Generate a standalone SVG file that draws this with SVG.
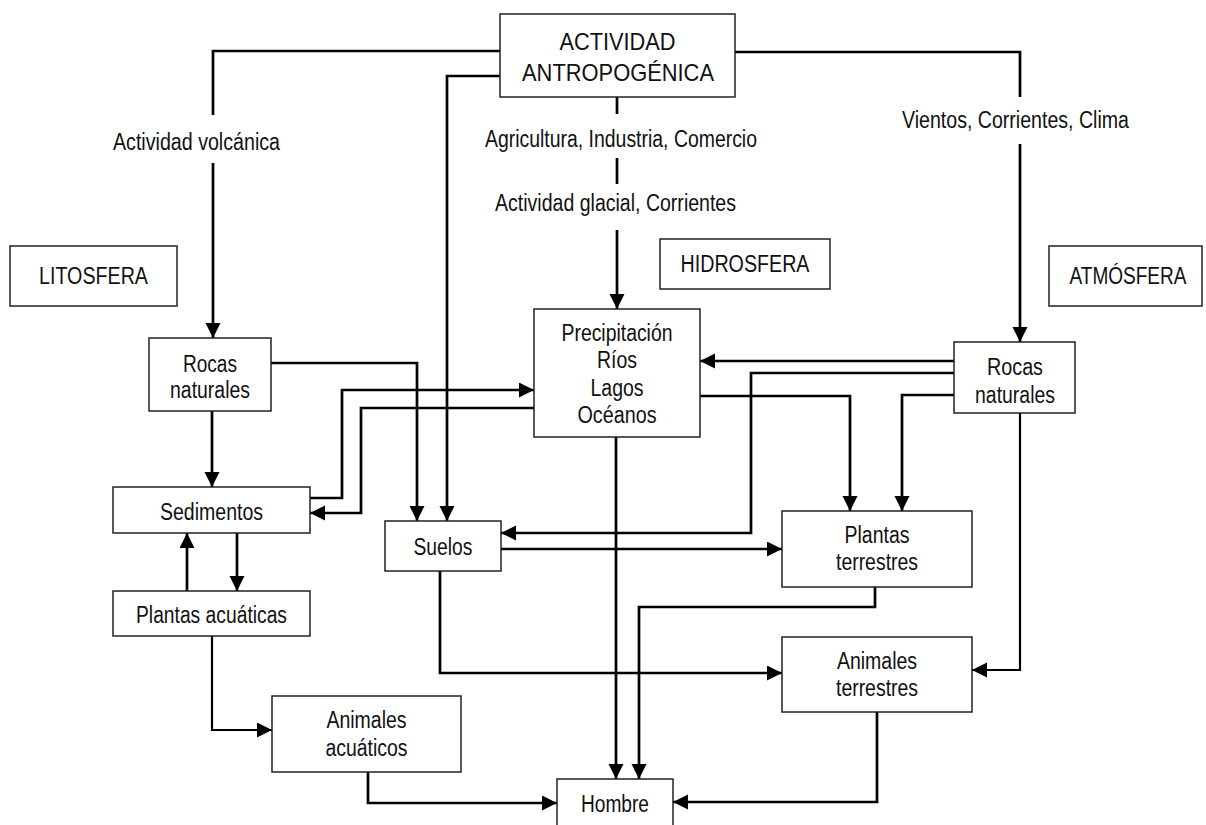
<svg xmlns="http://www.w3.org/2000/svg" width="1206" height="825" viewBox="0 0 1206 825">
<defs>
<style>
.box{fill:#fff;stroke:#222;stroke-width:1.5}
.t{font-family:"Liberation Sans",Arial,sans-serif;font-size:23.5px;fill:#111;text-anchor:middle}
.l{font-family:"Liberation Sans",Arial,sans-serif;font-size:23.5px;fill:#111}
.c{fill:none;stroke:#000;stroke-width:2.7;stroke-linejoin:miter}
.a{marker-end:url(#arr)}
</style>
<marker id="arr" markerUnits="userSpaceOnUse" markerWidth="16" markerHeight="16" refX="15" refY="7.5" orient="auto">
<path d="M0,0 L15,7.5 L0,15 z" fill="#000"/>
</marker>
</defs>
<rect width="1206" height="825" fill="#fff"/>
<g id="connectors">
<path class="c" d="M500,51 H213 V115"/>
<path class="c a" d="M213,163 V338"/>
<path class="c a" d="M500,76 H447 V521"/>
<path class="c" d="M617,97 V114"/>
<path class="c" d="M617,158 V184"/>
<path class="c a" d="M617,230 V309"/>
<path class="c" d="M735,52 H1020 V97"/>
<path class="c a" d="M1020,144 V342"/>
<path class="c a" d="M212,411 V487"/>
<path class="c a" d="M271,363 H417 V521"/>
<path class="c a" d="M310,498 H342 V390 H534"/>
<path class="c a" d="M534,408 H361 V513 H310"/>
<path class="c a" d="M237,533 V591"/>
<path class="c a" d="M187,591 V533"/>
<path class="c a" style="stroke-width:2.2" d="M212,636 V730 H272"/>
<path class="c a" d="M368,772 V803 H557"/>
<path class="c a" d="M501,549 H782"/>
<path class="c a" d="M440,571 V673 H782"/>
<path class="c a" d="M616,437 V779"/>
<path class="c a" d="M875,587 V607 H639 V779"/>
<path class="c a" d="M877,712 V802 H673"/>
<path class="c a" d="M954,361 H700"/>
<path class="c a" d="M954,373 H751 V533 H501"/>
<path class="c a" d="M954,395 H902 V511"/>
<path class="c a" d="M700,396 H850 V511"/>
<path class="c a" style="stroke-width:2.2" d="M1020,413 V670 H972"/>
</g>
<g id="n-actividad">
<rect class="box" x="500" y="14" width="235" height="83"/>
<text class="t" x="617.5" y="50" textLength="116" lengthAdjust="spacingAndGlyphs" style="font-size:24.5px">ACTIVIDAD</text>
<text class="t" x="618" y="81" textLength="192" lengthAdjust="spacingAndGlyphs" style="font-size:24.5px">ANTROPOGÉNICA</text>
</g>
<g id="labels">
<text class="l" x="113" y="150" textLength="167" lengthAdjust="spacingAndGlyphs">Actividad volcánica</text>
<text class="l" x="485" y="147" textLength="272" lengthAdjust="spacingAndGlyphs">Agricultura, Industria, Comercio</text>
<text class="l" x="495" y="211" textLength="241" lengthAdjust="spacingAndGlyphs">Actividad glacial, Corrientes</text>
<text class="l" x="902" y="128" textLength="227" lengthAdjust="spacingAndGlyphs">Vientos, Corrientes, Clima</text>
</g>
<g id="n-litosfera">
<rect class="box" x="10" y="246" width="167" height="60"/>
<text class="t" x="93.5" y="284" textLength="109" lengthAdjust="spacingAndGlyphs">LITOSFERA</text>
</g>
<g id="n-hidrosfera">
<rect class="box" x="660" y="239" width="170" height="50"/>
<text class="t" x="745" y="272" textLength="129" lengthAdjust="spacingAndGlyphs">HIDROSFERA</text>
</g>
<g id="n-atmosfera">
<rect class="box" x="1049" y="246" width="153" height="60"/>
<text class="t" transform="translate(1128,284) scale(0.81,1)" x="0" y="0">ATMÓSFERA</text>
</g>
<g id="n-rocas-l">
<rect class="box" x="149" y="338" width="122" height="73"/>
<text class="t" x="210" y="372" textLength="54" lengthAdjust="spacingAndGlyphs">Rocas</text>
<text class="t" x="210" y="398" textLength="80" lengthAdjust="spacingAndGlyphs">naturales</text>
</g>
<g id="n-precip">
<rect class="box" x="534" y="309" width="166" height="128"/>
<text class="t" x="617" y="341" textLength="111" lengthAdjust="spacingAndGlyphs">Precipitación</text>
<text class="t" x="617" y="368" textLength="40" lengthAdjust="spacingAndGlyphs">Ríos</text>
<text class="t" x="617" y="396" textLength="53" lengthAdjust="spacingAndGlyphs">Lagos</text>
<text class="t" x="617" y="423" textLength="79" lengthAdjust="spacingAndGlyphs">Océanos</text>
</g>
<g id="n-rocas-r">
<rect class="box" x="954" y="342" width="121" height="71"/>
<text class="t" x="1015" y="375" textLength="56" lengthAdjust="spacingAndGlyphs">Rocas</text>
<text class="t" x="1015" y="403" textLength="80" lengthAdjust="spacingAndGlyphs">naturales</text>
</g>
<g id="n-sedimentos">
<rect class="box" x="113" y="487" width="197" height="46"/>
<text class="t" x="211.5" y="520" textLength="103" lengthAdjust="spacingAndGlyphs">Sedimentos</text>
</g>
<g id="n-suelos">
<rect class="box" x="385" y="521" width="116" height="50"/>
<text class="t" x="443" y="555" textLength="59" lengthAdjust="spacingAndGlyphs">Suelos</text>
</g>
<g id="n-plantas-t">
<rect class="box" x="782" y="511" width="190" height="76"/>
<text class="t" x="877" y="543" textLength="65" lengthAdjust="spacingAndGlyphs">Plantas</text>
<text class="t" x="877" y="570" textLength="82" lengthAdjust="spacingAndGlyphs">terrestres</text>
</g>
<g id="n-plantas-a">
<rect class="box" x="113" y="591" width="197" height="45"/>
<text class="t" x="211.5" y="623" textLength="151" lengthAdjust="spacingAndGlyphs">Plantas acuáticas</text>
</g>
<g id="n-animales-t">
<rect class="box" x="782" y="637" width="190" height="75"/>
<text class="t" x="877" y="669" textLength="80" lengthAdjust="spacingAndGlyphs">Animales</text>
<text class="t" x="877" y="696" textLength="82" lengthAdjust="spacingAndGlyphs">terrestres</text>
</g>
<g id="n-animales-a">
<rect class="box" x="272" y="696" width="189" height="76"/>
<text class="t" x="366.5" y="728" textLength="80" lengthAdjust="spacingAndGlyphs">Animales</text>
<text class="t" x="366.5" y="756" textLength="82" lengthAdjust="spacingAndGlyphs">acuáticos</text>
</g>
<g id="n-hombre">
<rect class="box" x="557" y="779" width="116" height="60"/>
<text class="t" x="615" y="812" textLength="68" lengthAdjust="spacingAndGlyphs">Hombre</text>
</g>
</svg>
